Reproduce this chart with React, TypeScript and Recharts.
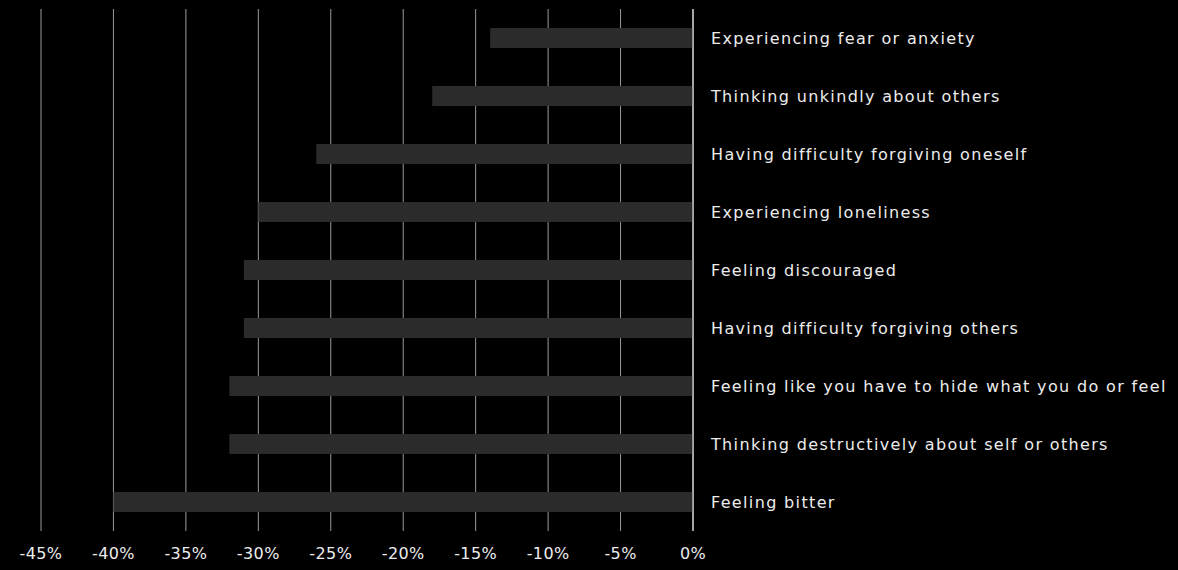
import { BarChart, Bar, XAxis, YAxis, CartesianGrid, ReferenceLine } from 'recharts';

// Feelings, top to bottom
const feelings = [
  'Experiencing fear or anxiety',
  'Thinking unkindly about others',
  'Having difficulty forgiving oneself',
  'Experiencing loneliness',
  'Feeling discouraged',
  'Having difficulty forgiving others',
  'Feeling like you have to hide what you do or feel',
  'Thinking destructively about self or others',
  'Feeling bitter',
];

// percentage change (negative)
const changes = [-14, -18, -26, -30, -31, -31, -32, -32, -40];

const xTicks = [-45, -40, -35, -30, -25, -20, -15, -10, -5, 0];

const data = feelings.map((name, i) => ({ name, value: changes[i] }));

const font = 'Verdana, "DejaVu Sans", sans-serif';

const App = () => {
  return (
    <div style={{ width: 1178, height: 570, background: '#000' }}>
      <style>{`body{margin:0;background:#000}`}</style>
      <BarChart
        width={1178}
        height={570}
        data={data}
        layout="vertical"
        margin={{ top: 9, right: 0, left: 41, bottom: 0 }}
        barSize={20}
      >
        <CartesianGrid horizontal={false} stroke="#9a9a9a" strokeWidth={1} />
        <XAxis
          type="number"
          domain={[-45, 0]}
          ticks={xTicks}
          tickFormatter={(v) => `${v}%`}
          axisLine={false}
          tickLine={false}
          height={39}
          tickMargin={11}
          tick={{ fill: '#ececec', fontSize: 16, fontFamily: font, letterSpacing: 0.4 }}
          interval={0}
        />
        <YAxis
          type="category"
          dataKey="name"
          orientation="right"
          width={485}
          axisLine={false}
          tickLine={false}
          tickMargin={12}
          interval={0}
          tick={{ fill: '#ececec', fontSize: 16, fontFamily: font, letterSpacing: 1.35 }}
        />
        <ReferenceLine x={0} stroke="#ffffff" strokeWidth={1} />
        <Bar dataKey="value" fill="#2b2b2b" isAnimationActive={false} />
      </BarChart>
    </div>
  );
};

export default App;
